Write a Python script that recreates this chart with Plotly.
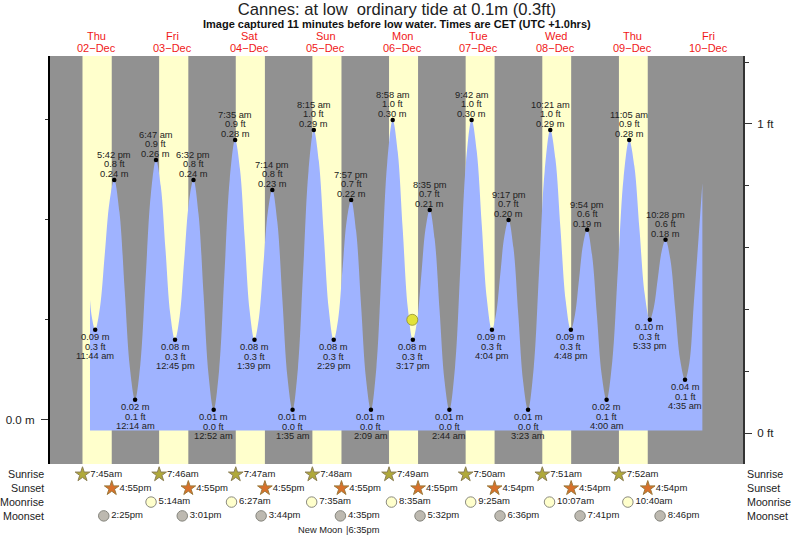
import plotly.graph_objects as go

# Tide curve: lows, highs and points along each slope
tide_times = [
    "2021-12-02 10:06", "2021-12-02 10:40", "2021-12-02 11:44", "2021-12-02 13:13", "2021-12-02 14:43", "2021-12-02 16:13",
    "2021-12-02 17:42", "2021-12-02 19:20", "2021-12-02 20:58", "2021-12-02 22:36",
    "2021-12-03 00:14", "2021-12-03 01:52", "2021-12-03 03:30", "2021-12-03 05:09",
    "2021-12-03 06:47", "2021-12-03 08:17", "2021-12-03 09:46", "2021-12-03 11:15",
    "2021-12-03 12:45", "2021-12-03 14:12", "2021-12-03 15:38", "2021-12-03 17:05",
    "2021-12-03 18:32", "2021-12-03 20:07", "2021-12-03 21:42", "2021-12-03 23:17",
    "2021-12-04 00:52", "2021-12-04 02:33", "2021-12-04 04:13", "2021-12-04 05:54",
    "2021-12-04 07:35", "2021-12-04 09:06", "2021-12-04 10:37", "2021-12-04 12:08",
    "2021-12-04 13:39", "2021-12-04 15:03", "2021-12-04 16:26", "2021-12-04 17:50",
    "2021-12-04 19:14", "2021-12-04 20:49", "2021-12-04 22:24", "2021-12-05 00:00",
    "2021-12-05 01:35", "2021-12-05 03:15", "2021-12-05 04:55", "2021-12-05 06:35",
    "2021-12-05 08:15", "2021-12-05 09:49", "2021-12-05 11:22", "2021-12-05 12:55",
    "2021-12-05 14:29", "2021-12-05 15:51", "2021-12-05 17:13", "2021-12-05 18:35",
    "2021-12-05 19:57", "2021-12-05 21:30", "2021-12-05 23:03", "2021-12-06 00:36",
    "2021-12-06 02:09", "2021-12-06 03:51", "2021-12-06 05:33", "2021-12-06 07:16",
    "2021-12-06 08:58", "2021-12-06 10:33", "2021-12-06 12:07", "2021-12-06 13:42",
    "2021-12-06 15:17", "2021-12-06 16:37", "2021-12-06 17:56", "2021-12-06 19:15",
    "2021-12-06 20:35", "2021-12-06 22:07", "2021-12-06 23:39", "2021-12-07 01:12",
    "2021-12-07 02:44", "2021-12-07 04:29", "2021-12-07 06:13", "2021-12-07 07:57",
    "2021-12-07 09:42", "2021-12-07 11:18", "2021-12-07 12:53", "2021-12-07 14:28",
    "2021-12-07 16:04", "2021-12-07 17:22", "2021-12-07 18:40", "2021-12-07 19:59",
    "2021-12-07 21:17", "2021-12-07 22:49", "2021-12-08 00:20", "2021-12-08 01:51",
    "2021-12-08 03:23", "2021-12-08 05:08", "2021-12-08 06:52", "2021-12-08 08:36",
    "2021-12-08 10:21", "2021-12-08 11:58", "2021-12-08 13:34", "2021-12-08 15:11",
    "2021-12-08 16:48", "2021-12-08 18:05", "2021-12-08 19:21", "2021-12-08 20:37",
    "2021-12-08 21:54", "2021-12-08 23:26", "2021-12-09 00:57", "2021-12-09 02:28",
    "2021-12-09 04:00", "2021-12-09 05:46", "2021-12-09 07:32", "2021-12-09 09:19",
    "2021-12-09 11:05", "2021-12-09 12:42", "2021-12-09 14:19", "2021-12-09 15:56",
    "2021-12-09 17:33", "2021-12-09 18:47", "2021-12-09 20:00", "2021-12-09 21:14",
    "2021-12-09 22:28", "2021-12-10 00:00", "2021-12-10 01:31", "2021-12-10 03:03",
    "2021-12-10 04:35", "2021-12-10 05:57", "2021-12-10 07:18", "2021-12-10 08:40", "2021-12-10 10:01",
]
tide_m = [
    0.12, 0.103, 0.09, 0.112, 0.165, 0.218,
    0.24, 0.208, 0.13, 0.052,
    0.02, 0.055, 0.14, 0.225,
    0.26, 0.234, 0.17, 0.106,
    0.08, 0.103, 0.16, 0.217,
    0.24, 0.206, 0.125, 0.044,
    0.01, 0.049, 0.145, 0.241,
    0.28, 0.251, 0.18, 0.109,
    0.08, 0.102, 0.155, 0.208,
    0.23, 0.198, 0.12, 0.042,
    0.01, 0.051, 0.15, 0.249,
    0.29, 0.259, 0.185, 0.111,
    0.08, 0.10, 0.15, 0.20,
    0.22, 0.189, 0.115, 0.041,
    0.01, 0.052, 0.155, 0.258,
    0.30, 0.268, 0.19, 0.112,
    0.08, 0.099, 0.145, 0.191,
    0.21, 0.181, 0.11, 0.039,
    0.01, 0.052, 0.155, 0.258,
    0.30, 0.269, 0.195, 0.121,
    0.09, 0.106, 0.145, 0.184,
    0.20, 0.172, 0.105, 0.038,
    0.01, 0.051, 0.15, 0.249,
    0.29, 0.261, 0.19, 0.119,
    0.09, 0.105, 0.14, 0.175,
    0.19, 0.165, 0.105, 0.045,
    0.02, 0.058, 0.15, 0.242,
    0.28, 0.254, 0.19, 0.126,
    0.10, 0.112, 0.14, 0.168,
    0.18, 0.16, 0.11, 0.06,
    0.04, 0.057, 0.115, 0.175, 0.237,
]
tide_floor = -0.0107

# Labelled extremes, alternating low / high
ext_times = [
    "2021-12-02 11:44", "2021-12-02 17:42", "2021-12-03 00:14", "2021-12-03 06:47", "2021-12-03 12:45",
    "2021-12-03 18:32", "2021-12-04 00:52", "2021-12-04 07:35", "2021-12-04 13:39", "2021-12-04 19:14",
    "2021-12-05 01:35", "2021-12-05 08:15", "2021-12-05 14:29", "2021-12-05 19:57", "2021-12-06 02:09",
    "2021-12-06 08:58", "2021-12-06 15:17", "2021-12-06 20:35", "2021-12-07 02:44", "2021-12-07 09:42",
    "2021-12-07 16:04", "2021-12-07 21:17", "2021-12-08 03:23", "2021-12-08 10:21", "2021-12-08 16:48",
    "2021-12-08 21:54", "2021-12-09 04:00", "2021-12-09 11:05", "2021-12-09 17:33", "2021-12-09 22:28",
    "2021-12-10 04:35",
]
ext_labels = [
    "11:44 am", "5:42 pm", "12:14 am", "6:47 am", "12:45 pm",
    "6:32 pm", "12:52 am", "7:35 am", "1:39 pm", "7:14 pm",
    "1:35 am", "8:15 am", "2:29 pm", "7:57 pm", "2:09 am",
    "8:58 am", "3:17 pm", "8:35 pm", "2:44 am", "9:42 am",
    "4:04 pm", "9:17 pm", "3:23 am", "10:21 am", "4:48 pm",
    "9:54 pm", "4:00 am", "11:05 am", "5:33 pm", "10:28 pm",
    "4:35 am",
]
ext_m = [
    0.09, 0.24, 0.02, 0.26, 0.08,
    0.24, 0.01, 0.28, 0.08, 0.23,
    0.01, 0.29, 0.08, 0.22, 0.01,
    0.30, 0.08, 0.21, 0.01, 0.30,
    0.09, 0.20, 0.01, 0.29, 0.09,
    0.19, 0.02, 0.28, 0.10, 0.18,
    0.04,
]
ext_ft = [
    0.3, 0.8, 0.1, 0.9, 0.3,
    0.8, 0.0, 0.9, 0.3, 0.8,
    0.0, 1.0, 0.3, 0.7, 0.0,
    1.0, 0.3, 0.7, 0.0, 1.0,
    0.3, 0.7, 0.0, 1.0, 0.3,
    0.6, 0.1, 0.9, 0.3, 0.6,
    0.1,
]

now_time = "2021-12-06 15:06"
now_m = 0.10

day_noons = [
    "2021-12-02 12:00", "2021-12-03 12:00", "2021-12-04 12:00", "2021-12-05 12:00", "2021-12-06 12:00",
    "2021-12-07 12:00", "2021-12-08 12:00", "2021-12-09 12:00", "2021-12-10 12:00",
]
day_names = ["Thu", "Fri", "Sat", "Sun", "Mon", "Tue", "Wed", "Thu", "Fri"]
day_dates = ["02−Dec", "03−Dec", "04−Dec", "05−Dec", "06−Dec", "07−Dec", "08−Dec", "09−Dec", "10−Dec"]

sunrise_times = ["2021-12-02 07:45", "2021-12-03 07:46", "2021-12-04 07:47", "2021-12-05 07:48",
                 "2021-12-06 07:49", "2021-12-07 07:50", "2021-12-08 07:51", "2021-12-09 07:52"]
sunrise_text = ["7:45am", "7:46am", "7:47am", "7:48am", "7:49am", "7:50am", "7:51am", "7:52am"]
sunset_times = ["2021-12-02 16:55", "2021-12-03 16:55", "2021-12-04 16:55", "2021-12-05 16:55",
                "2021-12-06 16:55", "2021-12-07 16:54", "2021-12-08 16:54", "2021-12-09 16:54"]
sunset_text = ["4:55pm", "4:55pm", "4:55pm", "4:55pm", "4:55pm", "4:54pm", "4:54pm", "4:54pm"]
moonrise_times = ["2021-12-03 05:14", "2021-12-04 06:27", "2021-12-05 07:35", "2021-12-06 08:35",
                  "2021-12-07 09:25", "2021-12-08 10:07", "2021-12-09 10:40"]
moonrise_text = ["5:14am", "6:27am", "7:35am", "8:35am", "9:25am", "10:07am", "10:40am"]
moonset_times = ["2021-12-02 14:25", "2021-12-03 15:01", "2021-12-04 15:44", "2021-12-05 16:35",
                 "2021-12-06 17:32", "2021-12-07 18:36", "2021-12-08 19:41", "2021-12-09 20:46"]
moonset_text = ["2:25pm", "3:01pm", "3:44pm", "4:35pm", "5:32pm", "6:36pm", "7:41pm", "8:46pm"]
new_moon_time = "2021-12-05 18:35"

rows = ["New Moon", "Moonset", "Moonrise", "Sunset", "Sunrise"]

FONT = "Liberation Sans"
TEXT = "#222222"
GRAY = "#919191"
YELLOW = "#ffffcc"
BLUE = "#9fb3ff"

fig = go.Figure()

# baseline first so the tide can fill down to it
fig.add_trace(go.Scatter(x=[tide_times[0], tide_times[-1]], y=[tide_floor, tide_floor], mode="lines",
                         line=dict(width=0), hoverinfo="skip", showlegend=False))
fig.add_trace(go.Scatter(x=tide_times, y=tide_m, mode="lines", fill="tonexty", fillcolor=BLUE,
                         line=dict(shape="spline", smoothing=1.0, width=0, color=BLUE), showlegend=False))
fig.add_trace(go.Scatter(x=ext_times, y=ext_m, mode="markers", marker=dict(color="black", size=4.5),
                         showlegend=False))
fig.add_trace(go.Scatter(x=[now_time], y=[now_m], mode="markers",
                         marker=dict(color="#e2e23a", size=11, line=dict(color="#8f8f30", width=0.8)),
                         showlegend=False))


def add_row(times, texts, row, symbol, size, color, edge):
    fig.add_trace(go.Scatter(x=times, y=[row] * len(times), yaxis="y3", mode="markers+text", text=texts,
                             textposition="middle right", textfont=dict(family=FONT, size=9.5, color=TEXT),
                             marker=dict(symbol=symbol, size=size, color=color, line=dict(color=edge, width=1)),
                             cliponaxis=False, showlegend=False))


add_row(sunrise_times, sunrise_text, "Sunrise", "star", 11, "#b0a93a", "#8c7f55")
add_row(sunset_times, sunset_text, "Sunset", "star", 11, "#d8702a", "#9c7a3c")
add_row(moonrise_times, moonrise_text, "Moonrise", "circle", 10.5, YELLOW, "#8a8a80")
add_row(moonset_times, moonset_text, "Moonset", "circle", 10.5, "#bdb9b0", "#85857d")

annotations = []


def note(x, y, text, size=9.3, color=TEXT, xref="x", yref="y", xanchor="center", yshift=0, xshift=0, bold=False):
    annotations.append(dict(x=x, y=y, xref=xref, yref=yref, text="<b>%s</b>" % text if bold else text,
                            showarrow=False, xanchor=xanchor, yanchor="middle", xshift=xshift, yshift=yshift,
                            font=dict(family=FONT, size=size, color=color)))


# three lines per extreme: above highs, below lows
for i, t in enumerate(ext_times):
    m_text = "%.2f m" % ext_m[i]
    ft_text = "%.1f ft" % ext_ft[i]
    if i % 2 == 0:
        lines = [(m_text, -7), (ft_text, -17), (ext_labels[i], -26)]
    else:
        lines = [(m_text, 6), (ft_text, 15.5), (ext_labels[i], 25)]
    for text, shift in lines:
        note(t, ext_m[i], text, yshift=shift)

for t, name, date in zip(day_noons, day_names, day_dates):
    note(t, 1, name, size=11, color="#f01818", yref="paper", yshift=20)
    note(t, 1, date, size=11, color="#f01818", yref="paper", yshift=8)

note(0.5, 1, "Image captured 11 minutes before low water. Times are CET (UTC +1.0hrs)", size=11, color="#111111",
     xref="paper", yref="paper", yshift=32, bold=True)

for row in rows[1:]:
    note(0, row, row, size=10.7, xref="paper", yref="y3", xanchor="right", xshift=-4)
    note(1, row, row, size=10.7, xref="paper", yref="y3", xanchor="left", xshift=2)

note(new_moon_time, "New Moon", "New Moon", xanchor="right", yref="y3", xshift=-3)
note(new_moon_time, "New Moon", "|6:35pm", xanchor="left", yref="y3", xshift=-2.5)

# gray night background with a yellow band for each day, sunrise to sunset
shapes = [dict(type="rect", xref="x", yref="y domain", x0="2021-12-01 21:34", x1="2021-12-10 22:45", y0=0, y1=1,
               fillcolor=GRAY, line=dict(width=0), layer="below")]
for start, end in zip(sunrise_times, sunset_times):
    shapes.append(dict(type="rect", xref="x", yref="y domain", x0=start, x1=end, y0=0, y1=1,
                       fillcolor=YELLOW, line=dict(width=0), layer="below"))

bottom_frac = 74 / 482

fig.update_layout(
    width=793, height=538, autosize=False,
    margin=dict(l=50, r=50, t=56, b=0, pad=0),
    paper_bgcolor="white", plot_bgcolor="white",
    showlegend=False, hovermode="closest",
    title=dict(text="Cannes: at low  ordinary tide at 0.1m (0.3ft)", x=0.5006, xanchor="center",
               y=0.982, yanchor="middle", font=dict(family=FONT, size=16.6, color=TEXT)),
    xaxis=dict(type="date", range=["2021-12-01 21:34", "2021-12-10 22:45"], visible=False, anchor="y"),
    yaxis=dict(domain=[bottom_frac, 1], range=[-0.0443, 0.364], showgrid=False, zeroline=False,
               showline=True, linecolor="black", linewidth=2, ticks="outside", ticklen=7, tickcolor="#333333",
               tickvals=[0], ticktext=["0.0 m"], tickfont=dict(family=FONT, size=11.6, color=TEXT),
               ticklabelstandoff=4,
               minor=dict(tickvals=[0.1, 0.2, 0.3], ticks="outside", ticklen=3, tickcolor="#333333")),
    yaxis2=dict(domain=[bottom_frac, 1], overlaying="y", side="right", anchor="x", range=[-0.0988, 1.2196],
                showgrid=False, zeroline=False, showline=True, linecolor="#333333", linewidth=2,
                ticks="outside", ticklen=7, tickcolor="#333333",
                tickvals=[0, 1], ticktext=["0 ft", "1 ft"], tickfont=dict(family=FONT, size=11.6, color=TEXT),
                ticklabelstandoff=3,
                minor=dict(tickvals=[0.2, 0.4, 0.6, 0.8, 1.2], ticks="outside", ticklen=4, tickcolor="#333333")),
    yaxis3=dict(domain=[0, bottom_frac], anchor="x", type="category", categoryorder="array", categoryarray=rows,
                range=[-0.6, 4.756], visible=False),
    shapes=shapes,
    annotations=annotations,
)

# dummy trace so the feet axis is drawn
fig.add_trace(go.Scatter(x=[tide_times[0]], y=[0], yaxis="y2", mode="markers", marker=dict(size=0, opacity=0),
                         hoverinfo="skip", showlegend=False))

fig.write_html("out.html", config=dict(displayModeBar=False), post_script="document.body.style.margin='0';")
